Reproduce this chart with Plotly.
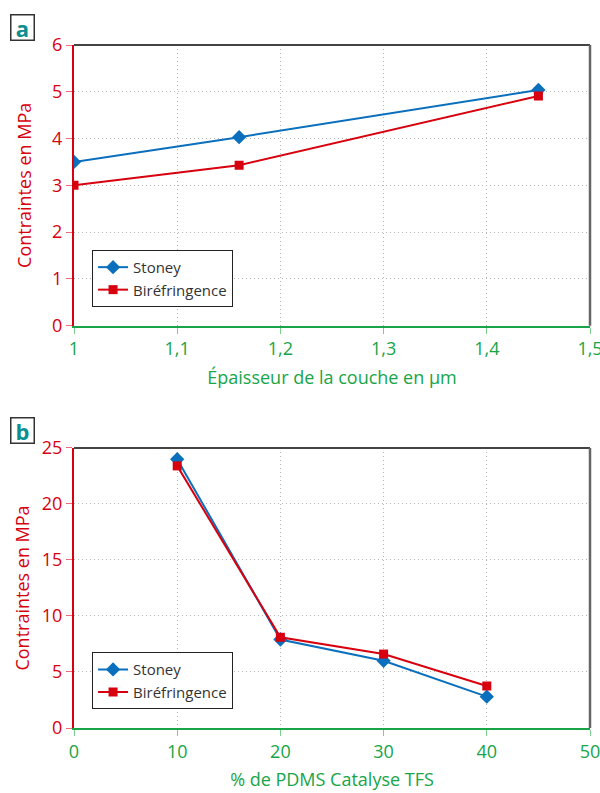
import plotly.graph_objects as go
from plotly.subplots import make_subplots

# Panel a data
thickness = [1.0, 1.16, 1.45]
stoney_a = [3.5, 4.03, 5.04]
biref_a = [3.0, 3.43, 4.91]

# Panel b data
pdms = [10, 20, 30, 40]
stoney_b = [24.0, 7.9, 6.0, 2.8]
biref_b = [23.4, 8.1, 6.6, 3.75]

xticks_a = [1, 1.1, 1.2, 1.3, 1.4, 1.5]
xticks_b = [0, 10, 20, 30, 40, 50]

BLUE = "#0a6fbd"
RED = "#d7000f"
GREEN = "#17a548"
LGREEN = "#7ccf8e"
LRED = "#ea6b73"
FONT = "Open Sans"

fig = make_subplots(rows=2, cols=1, vertical_spacing=0.18)

fig.add_trace(go.Scatter(x=thickness, y=stoney_a, name="Stoney", mode="lines+markers",
                         line=dict(color=BLUE, width=2), marker=dict(symbol="diamond", size=11, color=BLUE),
                         legend="legend"), row=1, col=1)
fig.add_trace(go.Scatter(x=thickness, y=biref_a, name="Biréfringence", mode="lines+markers",
                         line=dict(color=RED, width=2), marker=dict(symbol="square", size=9, color=RED),
                         legend="legend"), row=1, col=1)
fig.add_trace(go.Scatter(x=pdms, y=stoney_b, name="Stoney", mode="lines+markers",
                         line=dict(color=BLUE, width=2), marker=dict(symbol="diamond", size=11, color=BLUE),
                         legend="legend2"), row=2, col=1)
fig.add_trace(go.Scatter(x=pdms, y=biref_b, name="Biréfringence", mode="lines+markers",
                         line=dict(color=RED, width=2), marker=dict(symbol="square", size=9, color=RED),
                         legend="legend2"), row=2, col=1)

axis_common = dict(showgrid=True, gridcolor="#b5b5b5", griddash="1px,3px", gridwidth=1,
                   ticks="outside", ticklen=6, zeroline=False, showline=True, linewidth=2,
                   automargin=False, ticklabeloverflow="allow")

fig.update_xaxes(**axis_common, linecolor=GREEN, tickcolor=LGREEN,
                 tickfont=dict(color=GREEN, size=18, family=FONT),
                 title_font=dict(color=GREEN, size=18, family=FONT), title_standoff=12)
fig.update_yaxes(**axis_common, linecolor=RED, tickcolor=LRED,
                 tickfont=dict(color=RED, size=18, family=FONT),
                 title_font=dict(color=RED, size=18, family=FONT))

fig.update_xaxes(range=[1, 1.5], tickvals=xticks_a, ticktext=["1", "1,1", "1,2", "1,3", "1,4", "1,5"],
                 title_text="Épaisseur de la couche en µm", row=1, col=1)
fig.update_yaxes(range=[0, 6], dtick=1, title_text="Contraintes en MPa", title_standoff=16, row=1, col=1)
fig.update_xaxes(range=[0, 50], tickvals=xticks_b,
                 title_text="% de PDMS Catalyse TFS", row=2, col=1)
fig.update_yaxes(range=[0, 25], dtick=5, title_text="Contraintes en MPa", title_standoff=8, row=2, col=1)

fig.update_layout(
    xaxis=dict(domain=[0, 1]),
    yaxis=dict(domain=[0.589, 1.0]),
    xaxis2=dict(domain=[0, 1]),
    yaxis2=dict(domain=[0, 0.41]),
)

# top and right frame lines
for xr, yr in [("x domain", "y domain"), ("x2 domain", "y2 domain")]:
    fig.add_shape(type="line", xref=xr, yref=yr, x0=0, x1=1, y0=1, y1=1, layer="above",
                  line=dict(color="#444444", width=2))
    fig.add_shape(type="line", xref=xr, yref=yr, x0=1, x1=1, y0=0, y1=1, layer="above",
                  line=dict(color="#666666", width=2.5))

# panel labels
for txt, yv in [("a", 1.026), ("b", 0.436)]:
    fig.add_annotation(text="<b>" + txt + "</b>", xref="paper", yref="paper", x=-0.1, y=yv,
                       showarrow=False, font=dict(color="#0e8f8f", size=22, family=FONT),
                       bordercolor="#333333", borderwidth=1.5, borderpad=0, bgcolor="white",
                       width=22, height=24, xanchor="center", yanchor="middle")

legend_style = dict(bgcolor="white", bordercolor="#222222", borderwidth=1,
                    font=dict(color="#333333", size=15, family=FONT),
                    xanchor="left", yanchor="top", tracegroupgap=0, itemwidth=30)

fig.update_layout(
    width=600, height=793,
    margin=dict(l=74, r=10, t=45, b=65, autoexpand=False),
    paper_bgcolor="white", plot_bgcolor="white",
    separators=", ",
    font=dict(family=FONT),
    legend=dict(**legend_style, x=0.035, y=0.70),
    legend2=dict(**legend_style, x=0.035, y=0.111),
)

fig.write_html("out.html", config={"displayModeBar": False},
               post_script="document.body.style.margin='0';")
